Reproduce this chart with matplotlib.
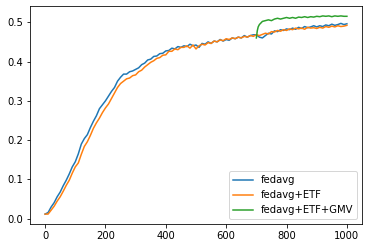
import matplotlib
matplotlib.use("Agg")
import matplotlib.pyplot as plt

# rounds sampled every 10 for the two baselines
rounds = list(range(0, 1001, 10))

fedavg = [
    0.012, 0.016, 0.030, 0.041, 0.056, 0.068, 0.084, 0.098, 0.114, 0.132,
    0.145, 0.165, 0.190, 0.204, 0.214, 0.232, 0.248, 0.262, 0.280, 0.290,
    0.300, 0.312, 0.324, 0.334, 0.350,
    0.360, 0.368, 0.368, 0.374, 0.376, 0.380, 0.384, 0.392, 0.396, 0.404,
    0.406, 0.413, 0.414, 0.420, 0.421, 0.427,
    0.428, 0.434, 0.432, 0.438, 0.436, 0.440, 0.438, 0.444, 0.440, 0.442,
    0.436, 0.446, 0.444, 0.450, 0.446, 0.452, 0.450, 0.456, 0.452, 0.456,
    0.454, 0.460, 0.458, 0.462, 0.460, 0.466, 0.462, 0.466, 0.468, 0.468,
    0.462, 0.460, 0.466, 0.472, 0.470, 0.478, 0.476, 0.481, 0.479, 0.483,
    0.481, 0.485, 0.482, 0.487, 0.484, 0.489, 0.486, 0.488, 0.491, 0.488,
    0.491, 0.489, 0.493, 0.491, 0.495, 0.492, 0.494, 0.497, 0.494, 0.496,
]

fedavg_etf = [
    0.012, 0.012, 0.022, 0.032, 0.045, 0.056, 0.070, 0.085, 0.098, 0.116,
    0.132, 0.142, 0.164, 0.184, 0.196, 0.212, 0.230, 0.244, 0.256, 0.270,
    0.282, 0.292, 0.306, 0.320, 0.334,
    0.344, 0.350, 0.356, 0.358, 0.364, 0.366, 0.374, 0.378, 0.386, 0.392,
    0.398, 0.402, 0.408, 0.410, 0.416, 0.417,
    0.426, 0.426, 0.432, 0.430, 0.436, 0.436, 0.440, 0.434, 0.442, 0.432,
    0.440, 0.444, 0.442, 0.448, 0.446, 0.452, 0.450, 0.455, 0.453, 0.458,
    0.456, 0.460, 0.458, 0.462, 0.460, 0.464, 0.462, 0.466, 0.464, 0.468,
    0.466, 0.469, 0.472, 0.470, 0.476, 0.475, 0.479, 0.477, 0.481, 0.479,
    0.483, 0.481, 0.485, 0.483, 0.485, 0.482, 0.487, 0.485, 0.486, 0.484,
    0.487, 0.485, 0.489, 0.487, 0.490, 0.488, 0.491, 0.489, 0.490, 0.492,
]

# GMV branch starts from round 700
gmv_rounds = [700, 703, 706, 710, 715, 720] + list(range(730, 1001, 10))
fedavg_etf_gmv = [
    0.460, 0.478, 0.488, 0.494, 0.498, 0.502,
    0.504, 0.506, 0.504, 0.508, 0.510, 0.508, 0.510, 0.512, 0.510, 0.512,
    0.510, 0.513, 0.512, 0.514, 0.512, 0.514, 0.513, 0.515, 0.514, 0.516,
    0.515, 0.516, 0.514, 0.516, 0.515, 0.516, 0.515, 0.515,
]

fig = plt.figure(figsize=(372 / 72, 249 / 72), dpi=72)
ax = fig.add_axes([30 / 372, 1 - 224 / 249, 332 / 372, 218 / 249])

ax.plot(rounds, fedavg, color="#1f77b4", lw=1.5, label="fedavg")
ax.plot(rounds, fedavg_etf, color="#ff7f0e", lw=1.5, label="fedavg+ETF")
ax.plot(gmv_rounds, fedavg_etf_gmv, color="#2ca02c", lw=1.5, label="fedavg+ETF+GMV")

ax.set_xticks([0, 200, 400, 600, 800, 1000])
ax.set_yticks([0.0, 0.1, 0.2, 0.3, 0.4, 0.5])
ax.tick_params(labelsize=10)
ax.legend(loc="lower right", fontsize=10)

fig.savefig("out.png", dpi=72)
